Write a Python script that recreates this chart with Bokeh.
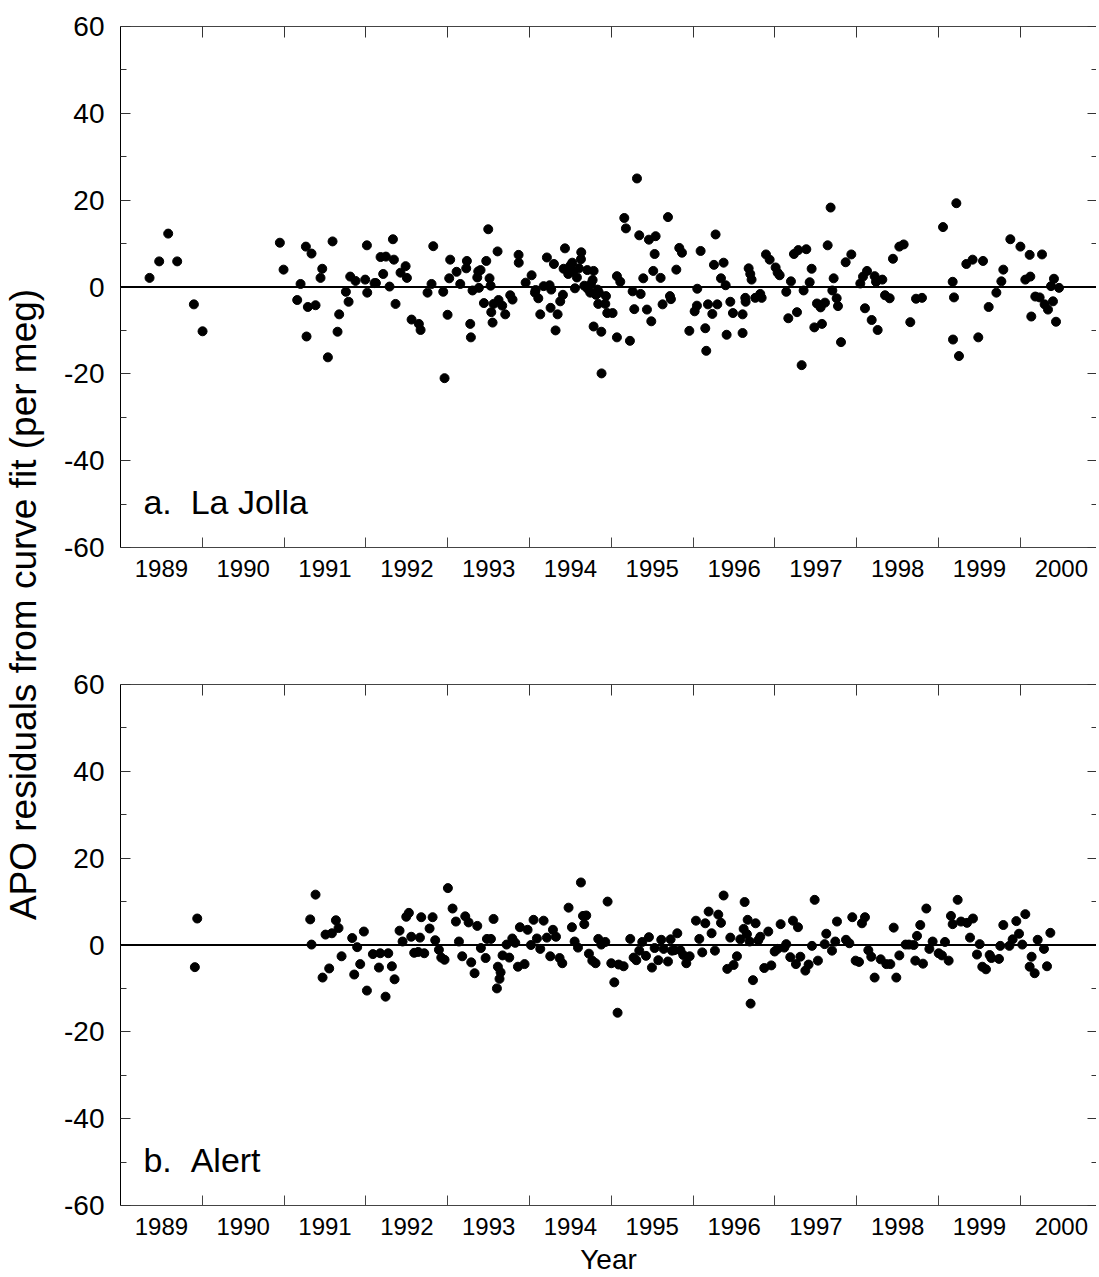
import math
from bokeh.plotting import figure
from bokeh.models import FixedTicker, LinearAxis, Span, Label, Range1d
from bokeh.layouts import row, column
from bokeh.embed import file_html
from bokeh.resources import INLINE

FONT = "Liberation Sans"

# ---------------- data ----------------
year_labels = ["1989", "1990", "1991", "1992", "1993", "1994",
               "1995", "1996", "1997", "1998", "1999", "2000"]
year_bounds = [1990, 1991, 1992, 1993, 1994, 1995, 1996, 1997, 1998, 1999, 2000]
y_major = [-60, -40, -20, 0, 20, 40, 60]
y_major_labels = ["-60", "-40", "-20", "0", "20", "40", "60"]
y_minor = [-50, -30, -10, 10, 30, 50]

# a. La Jolla
lj_year = [
    1989.355, 1989.473, 1989.583, 1989.693, 1989.897, 1990.003, 1990.948, 1990.993,
    1991.160, 1991.201, 1991.266, 1991.274, 1991.290, 1991.335, 1991.384, 1991.445,
    1991.466, 1991.535, 1991.592, 1991.653, 1991.673, 1991.755, 1991.788, 1991.808,
    1991.873, 1991.991, 1992.012, 1992.016, 1992.105, 1992.122, 1992.179, 1992.211,
    1992.244, 1992.289, 1992.330, 1992.342, 1992.362, 1992.423, 1992.485, 1992.501,
    1992.558, 1992.647, 1992.668, 1992.753, 1992.802, 1992.823, 1992.945, 1992.961,
    1992.998, 1993.018, 1993.030, 1993.108, 1993.153, 1993.226, 1993.234, 1993.275,
    1993.283, 1993.303, 1993.361, 1993.373, 1993.381, 1993.401, 1993.442, 1993.471,
    1993.495, 1993.511, 1993.524, 1993.532, 1993.548, 1993.560, 1993.609, 1993.621,
    1993.666, 1993.703, 1993.764, 1993.792, 1993.866, 1993.868,
    1993.952, 1994.025, 1994.066, 1994.074, 1994.107, 1994.131, 1994.172, 1994.212,
    1994.245, 1994.265, 1994.257, 1994.298, 1994.318, 1994.343, 1994.375, 1994.408,
    1994.433, 1994.416, 1994.473, 1994.498, 1994.522, 1994.534, 1994.555, 1994.579,
    1994.604, 1994.628, 1994.632, 1994.669, 1994.706, 1994.710, 1994.742, 1994.771,
    1994.783, 1994.750, 1994.812, 1994.832, 1994.848, 1994.840, 1994.926, 1994.934,
    1994.950, 1995.015, 1994.783, 1994.877, 1994.880, 1995.068, 1995.109, 1995.068,
    1995.227, 1995.158, 1995.178, 1995.313, 1995.260, 1995.280, 1995.341, 1995.358,
    1995.390, 1995.435, 1995.459, 1995.488, 1995.512, 1995.529, 1995.541, 1995.602,
    1995.626, 1995.692, 1995.716, 1995.728, 1995.794, 1995.830, 1995.863, 1995.953,
    1996.018, 1996.046, 1996.050, 1996.091, 1996.148, 1996.160, 1996.181, 1996.234,
    1996.254, 1996.274, 1996.295, 1996.340, 1996.372, 1996.397, 1996.409, 1996.454,
    1996.486, 1996.604, 1996.604, 1996.637, 1996.641, 1996.678, 1996.698, 1996.714,
    1996.759, 1996.820, 1996.837, 1996.890, 1996.935, 1997.008, 1997.032, 1997.057,
    1997.138, 1997.163, 1997.195, 1997.232, 1997.269, 1997.285,
    1997.326, 1997.350, 1997.383, 1997.424, 1997.448, 1997.481, 1997.513, 1997.546,
    1997.558, 1997.574, 1997.611, 1997.644, 1997.680, 1997.701, 1997.717, 1997.754,
    1997.770, 1997.807, 1997.864, 1997.933, 1998.043, 1998.076, 1998.100, 1998.125,
    1998.182, 1998.218, 1998.235, 1998.255, 1998.312, 1998.345, 1998.402, 1998.442,
    1998.520, 1998.573, 1998.654, 1998.724, 1998.797, 1999.054, 1999.172, 1999.188,
    1999.176, 1999.217, 1999.249, 1999.339, 1999.416, 1999.485, 1999.543, 1999.612,
    1999.706, 1999.767, 1999.791, 1999.877, 2000.000, 2000.060, 2000.113, 2000.121,
    2000.133, 2000.182, 2000.235, 2000.264, 2000.296, 2000.337, 2000.374, 2000.398,
    2000.410, 2000.435, 2000.472,
]
lj_apo = [
    2.1, 5.9, 12.3, 5.9, -4.0, -10.2, 10.2, 4.0,
    -3.0, 0.7, 9.3, -11.4, -4.6, 7.7, -4.2, 2.1,
    4.2, -16.2, 10.5, -10.3, -6.3, -1.1, -3.4, 2.4,
    1.4, 1.7, 9.6, -1.3, 0.9, 0.9, 6.9, 3.0,
    7.0, 0.1, 11.0, 6.3, -3.9, 3.3, 4.8, 2.1,
    -7.5, -8.5, -9.9, -1.3, 0.7, 9.4, -1.1, -21.0,
    -6.4, 2.0, 6.3, 3.5, 0.7, 4.3, 6.0, -8.5,
    -11.6, -0.8, 2.2, 3.6, -0.2, 3.9, -3.7, 6.0,
    13.3, 2.0, 0.3, -5.8, -8.2, -3.9, 8.2, -3.0,
    -4.3, -6.3, -1.9, -2.9, 7.4, 5.6,
    1.0, 2.7, -1.3, -0.7, -2.6, -6.3, 0.2, 6.8,
    0.4, -0.6, -4.8, 5.3, -10.0, -6.3, -3.3, -1.8,
    8.9, 4.2, 3.0, 4.9, 5.6, 3.7, -0.3, 2.2,
    4.3, 6.4, 8.0, 0.3, 3.9, -0.4, -1.3, 1.6,
    3.7, 0.7, -1.8, -0.6, -1.3, -3.9, -3.9, -2.1,
    -6.0, -6.0, -9.1, -10.3, -19.9, 2.5, 1.2, -11.6,
    -12.4, 15.9, 13.5, 25.0, -1.0, -5.1, 11.9, -1.6,
    2.0, -5.2, 10.9, -7.9, 3.7, 7.6, 11.7, 2.1,
    -4.0, 16.1, -2.1, -2.8, 4.0, 9.0, 7.9, -10.1,
    -5.6, -4.3, -0.4, 8.3, -9.5, -14.7, -4.0, -6.2,
    5.1, 12.1, -4.0, 2.0, 5.6, 0.4, -11.0, -3.4,
    -6.0, -6.3, -10.6, -2.5, -3.4, 4.3, 3.0, 1.7,
    -2.5, -1.6, -2.5, 7.5, 6.3, 4.5, 3.3, 2.7,
    -1.1, -7.2, 1.3, 7.6, -5.8, 8.5,
    -18.0, -0.8, 8.7, 1.1, 4.2, -9.3, -3.8, -4.2,
    -4.7, -8.5, -3.6, 9.6, 18.3, -0.8, 2.0, -2.6,
    -4.4, -12.7, 5.7, 7.5, 0.8, 2.4, -4.9, 3.7,
    -7.6, 2.5, 1.2, -9.9, 1.7, -1.9, -2.6, 6.5,
    9.3, 9.8, -8.1, -2.7, -2.5, 13.8, 1.2, -2.4,
    -12.1, 19.3, -15.9, 5.3, 6.3, -11.6, 6.0, -4.6,
    -1.3, 1.3, 4.0, 11.0, 9.3, 1.7, 7.4, 2.4,
    -6.8, -2.2, -2.4, 7.5, -4.0, -5.2, 0.2, -3.3,
    1.9, -8.0, -0.2,
]

# b. Alert
al_year = [
    1989.938, 1989.909, 1991.319, 1991.384, 1991.335, 1991.470, 1991.551, 1991.506,
    1991.584, 1991.633, 1991.665, 1991.702, 1991.832, 1991.893, 1991.975, 1991.930,
    1991.857, 1992.012, 1992.085, 1992.175, 1992.273, 1992.159, 1992.317, 1992.240,
    1992.350, 1992.411, 1992.448, 1992.493, 1992.525, 1992.554, 1992.660, 1992.676,
    1992.590, 1992.639, 1992.713, 1992.778, 1992.815, 1992.847, 1992.892, 1992.921,
    1992.961, 1993.002, 1993.059, 1993.100, 1993.137, 1993.177, 1993.214, 1993.255,
    1993.287, 1993.328, 1993.361, 1993.405, 1993.463, 1993.479, 1993.528, 1993.560,
    1993.613, 1993.646, 1993.633, 1993.601, 1993.670, 1993.719, 1993.752, 1993.789,
    1993.825, 1993.858, 1993.882,
    1993.939, 1993.976, 1994.017, 1994.049, 1994.090, 1994.131, 1994.172, 1994.212,
    1994.253, 1994.286, 1994.323, 1994.367, 1994.400, 1994.477, 1994.518, 1994.551,
    1994.592, 1994.628, 1994.653, 1994.669, 1994.693, 1994.726, 1994.767, 1994.807,
    1994.840, 1994.877, 1994.926, 1994.954, 1994.999, 1995.036, 1995.076, 1995.089,
    1995.150, 1995.231, 1995.272, 1995.305, 1995.341, 1995.378, 1995.423, 1995.459,
    1995.496, 1995.529, 1995.574, 1995.610, 1995.639, 1995.692, 1995.724, 1995.741,
    1995.769, 1995.806, 1995.843, 1995.879, 1995.916, 1995.957, 1996.034, 1996.075,
    1996.111, 1996.148, 1996.189, 1996.225, 1996.266, 1996.307, 1996.340, 1996.372,
    1996.417, 1996.454, 1996.494, 1996.535, 1996.576, 1996.617, 1996.629, 1996.657,
    1996.666, 1996.690, 1996.731, 1996.702, 1996.763, 1996.796, 1996.820, 1996.869,
    1996.918, 1996.955, 1996.996, 1997.032, 1997.069, 1997.114, 1997.138, 1997.187,
    1997.220, 1997.256, 1997.281, 1997.310,
    1997.371, 1997.411, 1997.452, 1997.485, 1997.525, 1997.607, 1997.627, 1997.697,
    1997.737, 1997.758, 1997.868, 1997.909, 1997.945, 1997.986, 1998.027, 1998.063,
    1998.100, 1998.141, 1998.177, 1998.218, 1998.292, 1998.361, 1998.410, 1998.451,
    1998.483, 1998.520, 1998.597, 1998.638, 1998.695, 1998.715, 1998.736, 1998.776,
    1998.809, 1998.850, 1998.887, 1998.927, 1999.001, 1999.041, 1999.078, 1999.123,
    1999.151, 1999.172, 1999.233, 1999.274, 1999.347, 1999.420, 1999.384, 1999.502,
    1999.469, 1999.534, 1999.579, 1999.624, 1999.645, 1999.738, 1999.754, 1999.791,
    1999.865, 1999.905, 1999.950, 1999.983, 2000.023, 2000.060, 2000.137, 2000.113,
    2000.174, 2000.211, 2000.288, 2000.325, 2000.366,
]
al_apo = [
    6.1, -5.1, 5.9, 11.6, 0.1, -7.5, -5.4, 2.4,
    2.7, 5.7, 3.9, -2.6, 1.6, -0.5, 3.1, -4.4,
    -6.8, -10.5, -2.1, -1.9, -1.9, -5.2, -4.9, -11.9,
    -7.9, 3.3, 0.8, 6.5, 7.4, 1.9, 1.7, 6.4,
    -1.8, -1.6, -1.9, 3.8, 6.4, 1.1, -1.1, -2.9,
    -3.4, 13.1, 8.4, 5.4, 0.8, -2.6, 6.6, 5.2,
    -4.0, -6.5, 4.4, -0.7, -3.0, 1.4, 1.4, 6.0,
    -5.0, -6.3, -7.8, -10.0, -2.4, 0.1, -2.9, 1.5,
    0.5, -5.0, 4.1,
    -4.4, 3.5, 0.0, 5.8, 1.5, -0.9, 5.6, 1.7,
    -2.6, 3.5, 1.9, -3.0, -4.2, 8.6, 4.1, 0.8,
    -0.6, 14.4, 6.7, 4.8, 6.8, -2.0, -3.6, -4.2,
    1.4, 0.1, 0.7, 10.0, -4.2, -8.6, -15.6, -4.5,
    -4.9, 1.4, -2.9, -3.5, -1.3, 0.7, -2.5, 1.8,
    -5.2, -0.7, -3.5, 1.2, -0.9, -3.8, 1.3, -1.3,
    -1.2, 2.7, -1.2, -2.3, -4.2, -2.6, 5.6, 1.4,
    -1.7, 5.0, 7.7, 2.7, -1.3, 7.0, 5.1, 11.4,
    -5.5, 1.7, -4.6, -2.6, 1.3, 3.7, 9.9, 2.5,
    5.8, 0.8, -8.1, -13.5, 5.0, 1.1, 1.9, -5.3,
    3.1, -4.7, -1.5, -0.9, 4.8, -0.6, 0.2, -2.8,
    5.6, -4.4, 4.1, -2.7,
    -5.9, -4.5, -0.2, 10.4, -3.6, 0.2, 2.6, -1.3,
    0.8, 5.4, 1.2, 0.4, 6.4, -3.6, -3.9, 5.0,
    6.4, -1.2, -2.7, -7.5, -3.3, -4.4, -4.4, 4.0,
    -7.5, -2.4, 0.1, 0.1, 0.0, -3.6, 2.1, 4.6,
    -4.3, 8.4, -0.9, 0.8, -1.9, -2.4, 0.7, -3.6,
    6.7, 4.8, 10.4, 5.4, 5.1, 6.1, 1.7, 0.2,
    -2.2, -5.0, -5.6, -2.3, -3.0, -3.2, -0.2, 4.6,
    -0.2, 1.3, 5.5, 2.6, 0.1, 7.1, -2.7, -5.0,
    -6.5, 1.2, -0.9, -4.9, 2.8,
]

# ---------------- helpers ----------------
label_pos = [b - 0.5 for b in year_bounds] + [year_bounds[-1] + 0.5]
x_label_map = {float(pos): lab for pos, lab in zip(label_pos, year_labels)}
y_label_map = {float(v): lab for v, lab in zip(y_major, y_major_labels)}
TICK = "#333333"


def bare_axis(minor, length):
    # axis that only draws inward (minor) tick marks, no line, no labels
    return LinearAxis(ticker=FixedTicker(ticks=[], minor_ticks=minor),
                      major_tick_in=0, major_tick_out=0,
                      minor_tick_in=length, minor_tick_out=0,
                      major_label_standoff=0,
                      axis_line_color=None, minor_tick_line_color=TICK)


def make_panel(years, vals, panel_text, text_y, top_border, bottom_border, xlabel=None):
    p = figure(frame_width=976, frame_height=521,
               x_range=Range1d(1989, 2000.93), y_range=Range1d(-60, 60),
               output_backend="svg", toolbar_location=None,
               min_border_left=70, min_border_right=0,
               min_border_top=top_border, min_border_bottom=bottom_border,
               x_axis_location=None, y_axis_location=None)
    p.outline_line_color = None
    p.grid.visible = False

    left = LinearAxis(ticker=FixedTicker(ticks=y_major, minor_ticks=y_minor),
                      major_tick_in=10, major_tick_out=0,
                      minor_tick_in=6, minor_tick_out=0,
                      major_label_standoff=16,
                      major_label_overrides=y_label_map,
                      major_label_text_font=FONT,
                      major_label_text_font_size="28px",
                      major_label_text_color="black",
                      axis_line_color="black", major_tick_line_color=TICK,
                      minor_tick_line_color=TICK)
    p.add_layout(left, "left")

    # right side: long ticks at labelled values, short ticks in between
    p.add_layout(bare_axis(y_major, 9), "right")
    p.add_layout(bare_axis(y_minor, 5), "right")

    top = bare_axis(year_bounds, 11)
    top.axis_line_color = "#444444"
    p.add_layout(top, "above")

    bottom = LinearAxis(ticker=FixedTicker(ticks=label_pos, minor_ticks=year_bounds),
                        major_tick_in=0, major_tick_out=0,
                        minor_tick_in=10, minor_tick_out=0,
                        major_label_overrides=x_label_map,
                        major_label_standoff=12,
                        major_label_text_font=FONT,
                        major_label_text_font_size="24px",
                        major_label_text_color="black",
                        axis_line_color="#444444", minor_tick_line_color="#444444")
    if xlabel:
        bottom.axis_label = xlabel
        bottom.axis_label_text_font = FONT
        bottom.axis_label_text_font_size = "28px"
        bottom.axis_label_text_font_style = "normal"
        bottom.axis_label_text_color = "black"
        bottom.axis_label_standoff = 6
    p.add_layout(bottom, "below")

    p.add_layout(Span(location=0, dimension="width", line_color="black", line_width=2))
    p.scatter(years, vals, size=9, color="black")

    p.add_layout(Label(x=1989.28, y=text_y, text=panel_text, text_font=FONT,
                       text_font_size="34px", text_color="black",
                       text_baseline="alphabetic"))
    return p


p1 = make_panel(lj_year, lj_apo, "a.\u00a0\u00a0La Jolla", -49.5, 26, 60)
p2 = make_panel(al_year, al_apo, "b.\u00a0\u00a0Alert", -49.5, 77, 72, xlabel="Year")

strip = figure(width=50, height=1277, x_range=Range1d(0, 50), y_range=Range1d(1277, 0),
               output_backend="svg", toolbar_location=None, min_border=0,
               x_axis_location=None, y_axis_location=None)
strip.outline_line_color = None
strip.grid.visible = False
strip.add_layout(Label(x=23, y=604, text="APO residuals from curve fit (per meg)",
                       angle=math.pi / 2, text_align="center", text_baseline="middle",
                       text_font=FONT, text_font_size="37px", text_color="black"))

layout = row(strip, column(p1, p2))
open("out.html", "w").write(file_html(layout, INLINE))
